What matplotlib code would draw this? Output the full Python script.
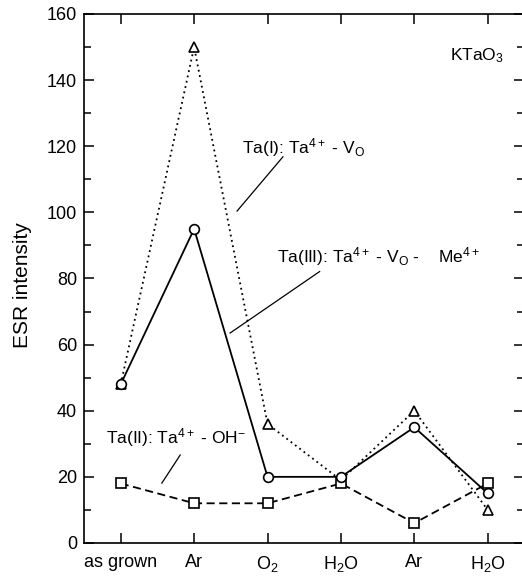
import matplotlib
matplotlib.use('Agg')
import matplotlib.pyplot as plt
from matplotlib.ticker import MultipleLocator

plt.rcParams['font.family'] = ['Liberation Sans', 'DejaVu Sans']
plt.rcParams['mathtext.fontset'] = 'custom'
plt.rcParams['mathtext.rm'] = 'Liberation Sans'
plt.rcParams['mathtext.it'] = 'Liberation Sans:italic'
plt.rcParams['mathtext.bf'] = 'Liberation Sans:bold'

# treatment steps
steps = ['as grown', 'Ar', 'O$_2$', 'H$_2$O', 'Ar', 'H$_2$O']
# ESR intensities
ta1 = [48, 150, 36, 19, 40, 10]     # Ta(I), triangles, dotted
ta3 = [48, 95, 20, 20, 35, 15]      # Ta(III), circles, solid
ta2 = [18, 12, 12, 18, 6, 18]       # Ta(II), squares, dashed

x = list(range(len(steps)))

fig = plt.figure(figsize=(5.22, 5.78), dpi=100)
ax = fig.add_axes([0.161, 0.0606, 0.8436, 0.9152])

mk = dict(markerfacecolor='white', markeredgecolor='black', markeredgewidth=1.2,
          markersize=7, color='black', lw=1.3)
ax.plot(x, ta1, linestyle=(0, (1, 2)), marker='^', **mk)
ax.plot(x, ta2, linestyle=(0, (4.5, 2.5)), marker='s', **mk)
ax.plot(x, ta3, linestyle='-', marker='o', **mk)

ax.set_xlim(-0.5, 5.5)
ax.set_ylim(0, 160)
ax.set_xticks(x)
ax.set_xticklabels(steps)
ax.yaxis.set_major_locator(MultipleLocator(20))
ax.yaxis.set_minor_locator(MultipleLocator(10))
ax.tick_params(which='both', direction='in', top=True, right=True, labelsize=13)
ax.tick_params(which='major', length=7, width=1.1)
ax.tick_params(which='minor', length=5, width=1.1)
ax.tick_params(axis='x', pad=8)
ax.tick_params(axis='y', pad=5)
ax.set_ylabel('ESR intensity', fontsize=15)
ax.yaxis.set_label_coords(-0.118, 0.488)
for s in ax.spines.values():
    s.set_linewidth(1.2)

fs = 12.5
ax.text(1.65, 117.7, r'Ta(I): Ta$^{4+}$ - V$_\mathrm{O}$', fontsize=fs)
ax.plot([2.21, 1.585], [116.8, 100.4], color='black', lw=0.9)

ax.text(2.13, 84.9, r'Ta(III): Ta$^{4+}$ - V$_\mathrm{O}$ -    Me$^{4+}$', fontsize=fs)
ax.plot([2.71, 1.49], [82.1, 63.5], color='black', lw=0.9)

ax.text(-0.2, 30.2, r'Ta(II): Ta$^{4+}$ - OH$^{-}$', fontsize=fs)
ax.plot([0.81, 0.56], [26.6, 18.1], color='black', lw=0.9)

ax.text(4.49, 146, r'KTaO$_3$', fontsize=fs)

fig.savefig('out.png', dpi=100)
